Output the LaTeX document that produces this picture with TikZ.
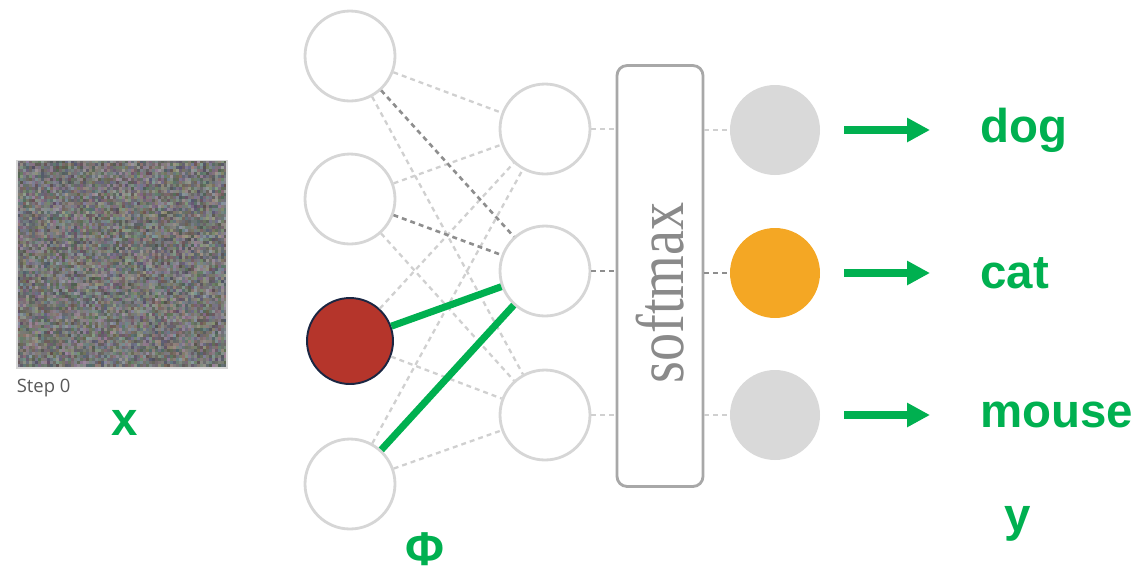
\documentclass[tikz,border=0pt]{standalone}
\usepackage{fontspec}
\newfontfamily\labelfont{Liberation Sans}
\newfontfamily\stepfont{Open Sans}
\newfontfamily\smfont{Liberation Serif}
\usetikzlibrary{positioning,arrows.meta}

\definecolor{labelgreen}{HTML}{00B050}
\definecolor{ringgray}{HTML}{D6D6D6}
\definecolor{weightgray}{HTML}{D0D0D0}
\definecolor{darkweight}{HTML}{8E8E8E}
\definecolor{boxgray}{HTML}{A8A8A8}
\definecolor{smtext}{HTML}{8A8A8A}
\definecolor{outgray}{HTML}{D9D9D9}
\definecolor{catorange}{HTML}{F4A724}
\definecolor{activered}{HTML}{B5352B}
\definecolor{activering}{HTML}{1B2642}
\definecolor{stepgray}{HTML}{595959}

\begin{document}
\begin{tikzpicture}[
    x=0.02cm, y=-0.02cm,
    neuron/.style={circle, draw=ringgray, line width=1.6pt, fill=white, minimum size=1.8cm, inner sep=0pt},
    active/.style={circle, draw=activering, line width=1.1pt, fill=activered, minimum size=1.72cm, inner sep=0pt},
    outneuron/.style={circle, fill=#1, minimum size=1.8cm, inner sep=0pt},
    smbox/.style={rectangle, draw=boxgray, line width=1.6pt, rounded corners=0.2cm, fill=white, minimum width=1.72cm, minimum height=8.42cm},
    weight/.style={dashed, dash pattern=on 2.8pt off 2.3pt, line width=1.3pt, color=weightgray},
    strongweight/.style={dashed, dash pattern=on 2.8pt off 2.3pt, line width=1.5pt, color=darkweight},
    greenlink/.style={line width=4pt, color=labelgreen},
    outarrow/.style={-{Triangle[length=0.46cm, width=0.46cm]}, line width=0.16cm, color=labelgreen, shorten <=0.48cm, shorten >=1cm},
    biglabel/.style={font=\labelfont\bfseries\fontsize{27}{27}\selectfont, text=labelgreen, inner sep=0pt},
    steplabel/.style={font=\stepfont\fontsize{10.5}{12}\selectfont, text=stepgray, inner sep=0pt}
]
\useasboundingbox (0,0) rectangle (1142,576);

% Noise image (step 0)
\pgfmathsetseed{7}
\foreach \i in {0,...,69}{
  \foreach \j in {0,...,68}{
    \pgfmathsetmacro{\base}{0.36+0.2*rnd}
    \pgfmathsetmacro{\nr}{\base+0.12*(rnd-0.5)}
    \pgfmathsetmacro{\ng}{\base+0.12*(rnd-0.5)}
    \pgfmathsetmacro{\nb}{\base+0.14*(rnd-0.5)}
    \definecolor{noisepx}{rgb}{\nr,\ng,\nb}
    \fill[noisepx] (17+3*\i,160+3*\j) rectangle ++(3.3,3.3);
  }
}
\node[draw=ringgray, line width=0.6pt, minimum width=4.2cm, minimum height=4.16cm, inner sep=0pt] (img) at (122,264) {};
\node[steplabel, below=0.2cm of img.south west, anchor=north west] (step) {Step 0};
\node[biglabel] (xlab) at (125,423) {x};

% Input layer
\node[neuron] (in1) at (350,56) {};
\node[neuron] (in2) at (350,199) {};
\node[active] (in3) at (350,341) {};
\node[neuron] (in4) at (350,484) {};

% Hidden layer
\node[neuron] (hid1) at (545,129) {};
\node[neuron] (hid2) at (545,271) {};
\node[neuron] (hid3) at (545,415) {};

% Softmax
\node[smbox] (sm) at (660,276) {};
\node[rotate=90, yscale=1.2, font=\smfont\fontsize{32}{32}\selectfont, text=smtext, inner sep=0pt] (smlabel) at (660,293) {softmax};

% Output layer
\node[outneuron=outgray] (out1) at (775,130) {};
\node[outneuron=catorange] (out2) at (775,273) {};
\node[outneuron=outgray] (out3) at (775,415) {};

% Weights input -> hidden
\draw[weight] (in1) -- (hid1);
\draw[weight] (in1) -- (hid3);
\draw[weight] (in2) -- (hid1);
\draw[weight] (in2) -- (hid3);
\draw[weight] (in3) -- (hid1);
\draw[weight] (in3) -- (hid3);
\draw[weight] (in4) -- (hid1);
\draw[weight] (in4) -- (hid3);
\draw[strongweight] (in1) -- (hid2);
\draw[strongweight] (in2) -- (hid2);

% Highlighted weights
\draw[greenlink] (in3) -- (hid2);
\draw[greenlink] (in4) -- (hid2);

% Hidden -> softmax -> output
\draw[weight] (hid1) -- (hid1 -| sm.west);
\draw[strongweight] (hid2) -- (hid2 -| sm.west);
\draw[weight] (hid3) -- (hid3 -| sm.west);
\draw[weight] (sm.east |- out1) -- (out1);
\draw[strongweight] (sm.east |- out2) -- (out2);
\draw[weight] (sm.east |- out3) -- (out3);

% Class labels
\node[biglabel, anchor=west] (dog) at (980,130) {dog};
\node[biglabel, anchor=west] (cat) at (980,273) {cat};
\node[biglabel, anchor=west] (mouse) at (980,415) {mouse};
\draw[outarrow] (out1) -- (dog);
\draw[outarrow] (out2) -- (cat);
\draw[outarrow] (out3) -- (mouse);

\node[biglabel] (ylab) at (1018,524) {y};
\node[biglabel] (phi) at (425,549) {Φ};

\end{tikzpicture}
\end{document}
